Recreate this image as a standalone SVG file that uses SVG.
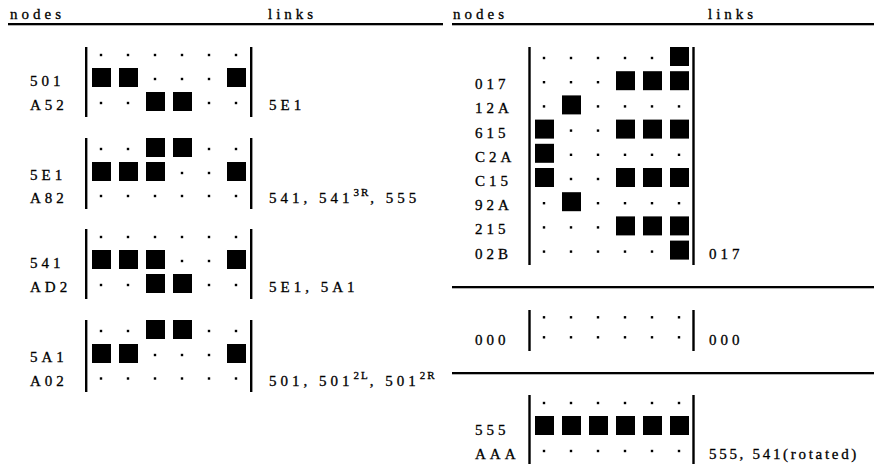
<svg xmlns="http://www.w3.org/2000/svg" xmlns:xlink="http://www.w3.org/1999/xlink" width="874" height="467" viewBox="0 0 874 467">
  <style>
    text { font-family: "Liberation Serif", "Times New Roman", serif; font-size: 15px; letter-spacing: 4px; fill: #000; stroke: #000; stroke-width: 0.3px; }
    .sup { font-size: 11px; letter-spacing: 2px; }
    .tight { letter-spacing: 2.7px; }
    .rule { fill: #000; }
    .bar { fill: #000; }
  </style>
  <defs>
    <!-- filled cell and empty cell marker, centred on (0,0) of each cell -->
    <rect id="sq" x="-9.5" y="-9.5" width="19" height="19" fill="#000"/>
    <rect id="dt" x="-1.7" y="0.3" width="2.4" height="2.4" fill="#000"/>
  </defs>

  <!-- table headings and rules -->
  <g id="headings">
    <text x="10" y="18.5">nodes</text>
    <text x="268" y="18.5">links</text>
    <text x="453" y="18.5">nodes</text>
    <text x="708" y="18.5">links</text>
    <rect class="rule" x="8" y="23" width="435" height="2.3"/>
    <rect class="rule" x="452" y="23" width="422" height="2.3"/>
    <rect class="rule" x="452" y="286" width="422" height="2.3"/>
    <rect class="rule" x="452" y="372" width="422" height="2.3"/>
  </g>

  <!-- node 501 / A52 -->
  <g id="node-501">
    <text x="30" y="86">501</text>
    <text x="30" y="110">A52</text>
    <rect class="bar" x="85" y="47" width="2.4" height="70"/>
    <rect class="bar" x="250" y="47" width="2.4" height="70"/>
    <use href="#dt" x="101.5" y="53.5"/><use href="#dt" x="128.5" y="53.5"/><use href="#dt" x="155.5" y="53.5"/><use href="#dt" x="182.5" y="53.5"/><use href="#dt" x="209.5" y="53.5"/><use href="#dt" x="236.5" y="53.5"/>
    <use href="#sq" x="101.5" y="77.5"/><use href="#sq" x="128.5" y="77.5"/><use href="#dt" x="155.5" y="77.5"/><use href="#dt" x="182.5" y="77.5"/><use href="#dt" x="209.5" y="77.5"/><use href="#sq" x="236.5" y="77.5"/>
    <use href="#dt" x="101.5" y="101.5"/><use href="#dt" x="128.5" y="101.5"/><use href="#sq" x="155.5" y="101.5"/><use href="#sq" x="182.5" y="101.5"/><use href="#dt" x="209.5" y="101.5"/><use href="#dt" x="236.5" y="101.5"/>
    <text x="269" y="110">5E1</text>
  </g>

  <!-- node 5E1 / A82 -->
  <g id="node-5E1">
    <text x="30" y="180">5E1</text>
    <text x="30" y="203">A82</text>
    <rect class="bar" x="85" y="138" width="2.4" height="71"/>
    <rect class="bar" x="250" y="138" width="2.4" height="71"/>
    <use href="#dt" x="101.5" y="147.5"/><use href="#dt" x="128.5" y="147.5"/><use href="#sq" x="155.5" y="147.5"/><use href="#sq" x="182.5" y="147.5"/><use href="#dt" x="209.5" y="147.5"/><use href="#dt" x="236.5" y="147.5"/>
    <use href="#sq" x="101.5" y="171.5"/><use href="#sq" x="128.5" y="171.5"/><use href="#sq" x="155.5" y="171.5"/><use href="#dt" x="182.5" y="171.5"/><use href="#dt" x="209.5" y="171.5"/><use href="#sq" x="236.5" y="171.5"/>
    <use href="#dt" x="101.5" y="194.5"/><use href="#dt" x="128.5" y="194.5"/><use href="#dt" x="155.5" y="194.5"/><use href="#dt" x="182.5" y="194.5"/><use href="#dt" x="209.5" y="194.5"/><use href="#dt" x="236.5" y="194.5"/>
    <text x="269" y="203">541, 541<tspan class="sup" dy="-7">3R</tspan><tspan dy="7">, 555</tspan></text>
  </g>

  <!-- node 541 / AD2 -->
  <g id="node-541">
    <text x="30" y="268">541</text>
    <text x="30" y="292">AD2</text>
    <rect class="bar" x="85" y="229" width="2.4" height="70"/>
    <rect class="bar" x="250" y="229" width="2.4" height="70"/>
    <use href="#dt" x="101.5" y="235.5"/><use href="#dt" x="128.5" y="235.5"/><use href="#dt" x="155.5" y="235.5"/><use href="#dt" x="182.5" y="235.5"/><use href="#dt" x="209.5" y="235.5"/><use href="#dt" x="236.5" y="235.5"/>
    <use href="#sq" x="101.5" y="259.5"/><use href="#sq" x="128.5" y="259.5"/><use href="#sq" x="155.5" y="259.5"/><use href="#dt" x="182.5" y="259.5"/><use href="#dt" x="209.5" y="259.5"/><use href="#sq" x="236.5" y="259.5"/>
    <use href="#dt" x="101.5" y="283.5"/><use href="#dt" x="128.5" y="283.5"/><use href="#sq" x="155.5" y="283.5"/><use href="#sq" x="182.5" y="283.5"/><use href="#dt" x="209.5" y="283.5"/><use href="#dt" x="236.5" y="283.5"/>
    <text x="269" y="292">5E1, 5A1</text>
  </g>

  <!-- node 5A1 / A02 -->
  <g id="node-5A1">
    <text x="30" y="362">5A1</text>
    <text x="30" y="385.5">A02</text>
    <rect class="bar" x="85" y="320" width="2.4" height="72"/>
    <rect class="bar" x="250" y="320" width="2.4" height="72"/>
    <use href="#dt" x="101.5" y="329.5"/><use href="#dt" x="128.5" y="329.5"/><use href="#sq" x="155.5" y="329.5"/><use href="#sq" x="182.5" y="329.5"/><use href="#dt" x="209.5" y="329.5"/><use href="#dt" x="236.5" y="329.5"/>
    <use href="#sq" x="101.5" y="353.5"/><use href="#sq" x="128.5" y="353.5"/><use href="#dt" x="155.5" y="353.5"/><use href="#dt" x="182.5" y="353.5"/><use href="#dt" x="209.5" y="353.5"/><use href="#sq" x="236.5" y="353.5"/>
    <use href="#dt" x="101.5" y="377"/><use href="#dt" x="128.5" y="377"/><use href="#dt" x="155.5" y="377"/><use href="#dt" x="182.5" y="377"/><use href="#dt" x="209.5" y="377"/><use href="#dt" x="236.5" y="377"/>
    <text x="269" y="385.5">501, 501<tspan class="sup" dy="-7">2L</tspan><tspan dy="7">, 501</tspan><tspan class="sup" dy="-7">2R</tspan></text>
  </g>

  <!-- tall node block 017 ... 02B -->
  <g id="node-017">
    <text x="475" y="89.2">017</text>
    <text x="475" y="113.4">12A</text>
    <text x="475" y="137.6">615</text>
    <text x="475" y="161.8">C2A</text>
    <text x="475" y="186">C15</text>
    <text x="475" y="210.2">92A</text>
    <text x="475" y="234.4">215</text>
    <text x="475" y="258.6">02B</text>
    <rect class="bar" x="528.3" y="47" width="2.4" height="218"/>
    <rect class="bar" x="692.3" y="47" width="2.4" height="218"/>
    <use href="#dt" x="544.5" y="56.5"/><use href="#dt" x="571.5" y="56.5"/><use href="#dt" x="598.5" y="56.5"/><use href="#dt" x="625.5" y="56.5"/><use href="#dt" x="652.5" y="56.5"/><use href="#sq" x="679.5" y="56.5"/>
    <use href="#dt" x="544.5" y="80.7"/><use href="#dt" x="571.5" y="80.7"/><use href="#dt" x="598.5" y="80.7"/><use href="#sq" x="625.5" y="80.7"/><use href="#sq" x="652.5" y="80.7"/><use href="#sq" x="679.5" y="80.7"/>
    <use href="#dt" x="544.5" y="104.9"/><use href="#sq" x="571.5" y="104.9"/><use href="#dt" x="598.5" y="104.9"/><use href="#dt" x="625.5" y="104.9"/><use href="#dt" x="652.5" y="104.9"/><use href="#dt" x="679.5" y="104.9"/>
    <use href="#sq" x="544.5" y="129.1"/><use href="#dt" x="571.5" y="129.1"/><use href="#dt" x="598.5" y="129.1"/><use href="#sq" x="625.5" y="129.1"/><use href="#sq" x="652.5" y="129.1"/><use href="#sq" x="679.5" y="129.1"/>
    <use href="#sq" x="544.5" y="153.3"/><use href="#dt" x="571.5" y="153.3"/><use href="#dt" x="598.5" y="153.3"/><use href="#dt" x="625.5" y="153.3"/><use href="#dt" x="652.5" y="153.3"/><use href="#dt" x="679.5" y="153.3"/>
    <use href="#sq" x="544.5" y="177.5"/><use href="#dt" x="571.5" y="177.5"/><use href="#dt" x="598.5" y="177.5"/><use href="#sq" x="625.5" y="177.5"/><use href="#sq" x="652.5" y="177.5"/><use href="#sq" x="679.5" y="177.5"/>
    <use href="#dt" x="544.5" y="201.7"/><use href="#sq" x="571.5" y="201.7"/><use href="#dt" x="598.5" y="201.7"/><use href="#dt" x="625.5" y="201.7"/><use href="#dt" x="652.5" y="201.7"/><use href="#dt" x="679.5" y="201.7"/>
    <use href="#dt" x="544.5" y="225.9"/><use href="#dt" x="571.5" y="225.9"/><use href="#dt" x="598.5" y="225.9"/><use href="#sq" x="625.5" y="225.9"/><use href="#sq" x="652.5" y="225.9"/><use href="#sq" x="679.5" y="225.9"/>
    <use href="#dt" x="544.5" y="250.1"/><use href="#dt" x="571.5" y="250.1"/><use href="#dt" x="598.5" y="250.1"/><use href="#dt" x="625.5" y="250.1"/><use href="#dt" x="652.5" y="250.1"/><use href="#sq" x="679.5" y="250.1"/>
    <text x="709" y="258.6">017</text>
  </g>

  <!-- empty node 000 -->
  <g id="node-000">
    <text x="475" y="345">000</text>
    <rect class="bar" x="528.3" y="310" width="2.4" height="41"/>
    <rect class="bar" x="692.3" y="310" width="2.4" height="41"/>
    <use href="#dt" x="544.5" y="315.8"/><use href="#dt" x="571.5" y="315.8"/><use href="#dt" x="598.5" y="315.8"/><use href="#dt" x="625.5" y="315.8"/><use href="#dt" x="652.5" y="315.8"/><use href="#dt" x="679.5" y="315.8"/>
    <use href="#dt" x="544.5" y="335.8"/><use href="#dt" x="571.5" y="335.8"/><use href="#dt" x="598.5" y="335.8"/><use href="#dt" x="625.5" y="335.8"/><use href="#dt" x="652.5" y="335.8"/><use href="#dt" x="679.5" y="335.8"/>
    <text x="709" y="345">000</text>
  </g>

  <!-- node 555 / AAA -->
  <g id="node-555">
    <text x="475" y="434.5">555</text>
    <text x="475" y="458.5">AAA</text>
    <rect class="bar" x="528.3" y="395" width="2.4" height="69"/>
    <rect class="bar" x="692.3" y="395" width="2.4" height="69"/>
    <use href="#dt" x="544.5" y="401.5"/><use href="#dt" x="571.5" y="401.5"/><use href="#dt" x="598.5" y="401.5"/><use href="#dt" x="625.5" y="401.5"/><use href="#dt" x="652.5" y="401.5"/><use href="#dt" x="679.5" y="401.5"/>
    <use href="#sq" x="544.5" y="425.5"/><use href="#sq" x="571.5" y="425.5"/><use href="#sq" x="598.5" y="425.5"/><use href="#sq" x="625.5" y="425.5"/><use href="#sq" x="652.5" y="425.5"/><use href="#sq" x="679.5" y="425.5"/>
    <use href="#dt" x="544.5" y="449.5"/><use href="#dt" x="571.5" y="449.5"/><use href="#dt" x="598.5" y="449.5"/><use href="#dt" x="625.5" y="449.5"/><use href="#dt" x="652.5" y="449.5"/><use href="#dt" x="679.5" y="449.5"/>
    <text class="tight" x="709" y="458.5">555, 541(rotated)</text>
  </g>
</svg>
